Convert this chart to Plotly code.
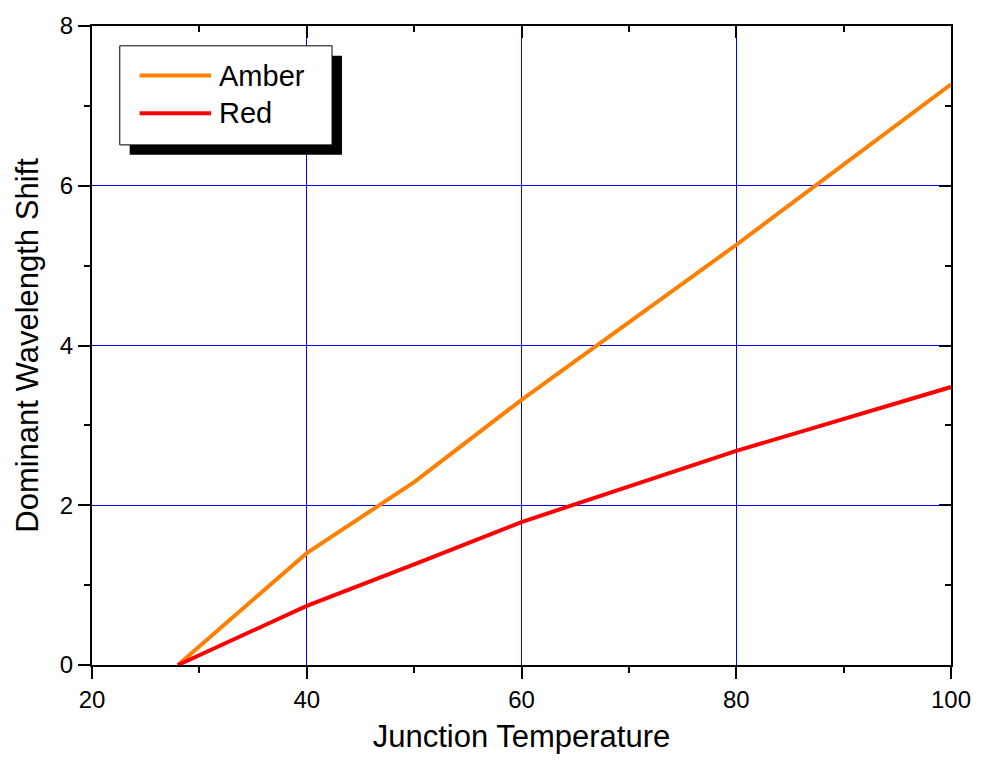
import plotly.graph_objects as go

# Data
amber_x = [28, 40, 50, 60, 80, 100]
amber_y = [0.0, 1.40, 2.29, 3.32, 5.26, 7.27]
red_x = [28, 40, 50, 60, 80, 100]
red_y = [0.0, 0.74, 1.26, 1.79, 2.68, 3.48]
series_names = ["Amber", "Red"]
series_colors = ["#FF8000", "#FF0000"]
x_title = "Junction Temperature"
y_title = "Dominant Wavelength Shift"

FONT = "Liberation Sans, Arial, sans-serif"

fig = go.Figure()
fig.add_trace(go.Scatter(x=amber_x, y=amber_y, mode="lines", name=series_names[0],
                         line=dict(color=series_colors[0], width=4)))
fig.add_trace(go.Scatter(x=red_x, y=red_y, mode="lines", name=series_names[1],
                         line=dict(color=series_colors[1], width=4)))

axis_common = dict(showline=True, linecolor="black", linewidth=2, zeroline=False,
                   tickcolor="black", tickwidth=2, ticklen=12)

fig.update_layout(
    width=983, height=765,
    margin=dict(l=92, r=25, t=20, b=100),
    paper_bgcolor="white", plot_bgcolor="white",
    showlegend=False,
    font=dict(family=FONT, color="black"),
    xaxis=dict(range=[20, 100], dtick=20, tick0=20, ticks="outside",
               showgrid=True, gridcolor="#0000FF", gridwidth=1,
               tickfont=dict(size=24),
               title=dict(text=x_title, font=dict(size=31), standoff=14),
               minor=dict(dtick=10, tick0=20, ticks="outside", ticklen=6, tickwidth=2,
                          tickcolor="black", showgrid=False),
               **axis_common),
    yaxis=dict(range=[0, 8], dtick=2, tick0=0, ticks="outside",
               showgrid=True, gridcolor="#0000FF", gridwidth=1,
               tickfont=dict(size=24),
               title=dict(text=y_title, font=dict(size=31), standoff=12),
               minor=dict(dtick=1, tick0=0, ticks="outside", ticklen=6, tickwidth=2,
                          tickcolor="black", showgrid=False),
               **axis_common),
    xaxis2=dict(range=[20, 100], dtick=20, tick0=20, ticks="inside", overlaying="x",
                side="top", anchor="y", showticklabels=False, showgrid=False,
                minor=dict(dtick=10, tick0=20, ticks="inside", ticklen=6, tickwidth=2,
                           tickcolor="black", showgrid=False),
                **axis_common),
    yaxis2=dict(range=[0, 8], dtick=2, tick0=0, ticks="inside", overlaying="y",
                side="right", anchor="x", showticklabels=False, showgrid=False,
                minor=dict(dtick=1, tick0=0, ticks="inside", ticklen=6, tickwidth=2,
                           tickcolor="black", showgrid=False),
                **axis_common),
)

# dummy trace to activate secondary axes
fig.add_trace(go.Scatter(x=[None], y=[None], xaxis="x2", yaxis="y2", showlegend=False,
                         hoverinfo="skip"))

# Manual legend with drop shadow (paper coordinates)
def px(x):
    return (x - 92) / (958 - 92)
def py(y):
    return (665 - y) / (665 - 20)

shapes = [
    dict(type="rect", xref="paper", yref="paper",
         x0=px(130), x1=px(344), y0=py(150), y1=py(50),
         fillcolor="black", line=dict(width=0), layer="above"),
    dict(type="rect", xref="paper", yref="paper",
         x0=px(120), x1=px(334), y0=py(140), y1=py(40),
         fillcolor="white", line=dict(color="black", width=1), layer="above"),
]
for i, (name, col) in enumerate(zip(series_names, series_colors)):
    yc = 70 + i * 38
    shapes.append(dict(type="line", xref="paper", yref="paper",
                       x0=px(140), x1=px(212), y0=py(yc), y1=py(yc),
                       line=dict(color=col, width=4), layer="above"))
    fig.add_annotation(xref="paper", yref="paper", x=px(218), y=py(yc),
                       text=name, showarrow=False, xanchor="left", yanchor="middle",
                       font=dict(size=29, family=FONT, color="black"))
fig.update_layout(shapes=shapes)

fig.write_html("out.html", config={"displayModeBar": False})
with open("out.html", "r", encoding="utf-8") as f:
    html = f.read()
html = html.replace("<head>", "<head><style>html,body{margin:0;padding:0;overflow:hidden}</style>", 1)
with open("out.html", "w", encoding="utf-8") as f:
    f.write(html)
